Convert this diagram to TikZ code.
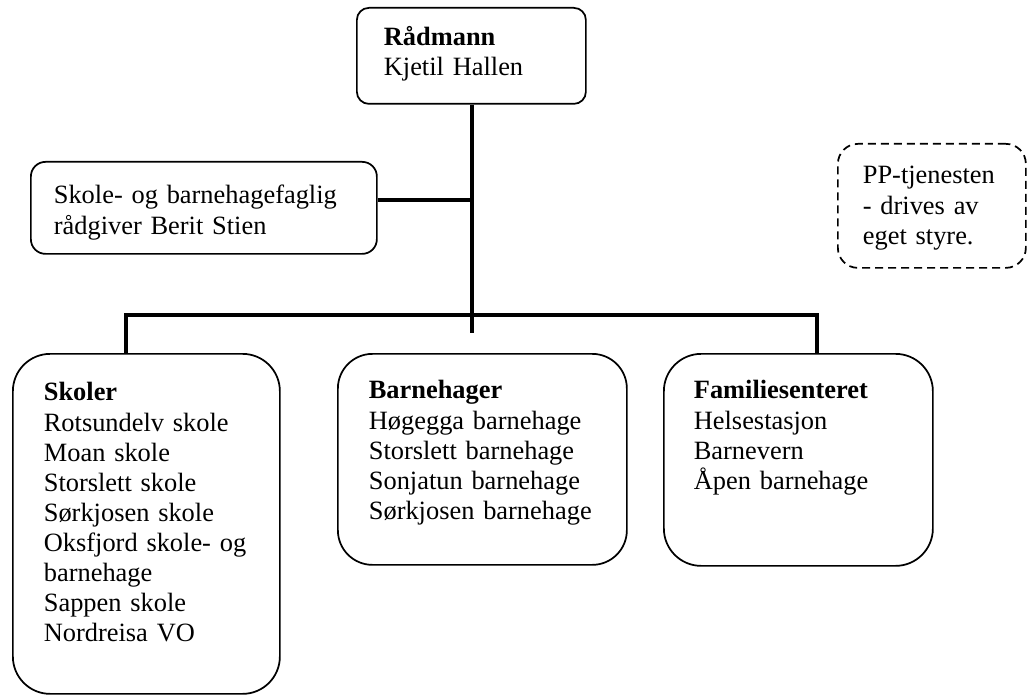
\documentclass[tikz,border=0pt]{standalone}
\usepackage{fontspec}
\setmainfont{Liberation Serif}
\begin{document}
\begin{tikzpicture}[x=0.75pt,y=-0.75pt,
  orgbox/.style={draw, line width=1.3pt, anchor=north west, inner ysep=0pt, align=left,
    font=\fontsize{19.8pt}{22.6pt}\selectfont},
  conn/.style={line width=2.4pt}]
\useasboundingbox (0,0) rectangle (1027,695);

% boxes
\node[orgbox, rounded corners=9pt, inner xsep=20.25pt, text width=131.25pt,
  text height=28.5pt, text depth=43.5pt] (radm) at (356,7)
  {\textbf{Rådmann}\\Kjetil Hallen};
\node[orgbox, rounded corners=11pt, inner xsep=17.25pt, text width=225pt,
  text height=31.5pt, text depth=37.5pt] (rad) at (30,161)
  {Skole- og barnehagefaglig\\rådgiver Berit Stien};
\node[orgbox, dash pattern=on 6pt off 3.75pt, rounded corners=15pt, inner xsep=18.75pt, text width=103.5pt,
  text height=30pt, text depth=63pt] (pp) at (837,143)
  {PP-tjenesten\\- drives av\\eget styre.};
\node[orgbox, rounded corners=28pt, inner xsep=23.25pt, text width=153.75pt,
  text height=35.25pt, text depth=219.75pt] (skoler) at (12,353)
  {\textbf{Skoler}\\Rotsundelv skole\\Moan skole\\Storslett skole\\Sørkjosen skole\\Oksfjord skole- og\\barnehage\\Sappen skole\\Nordreisa VO};
\node[orgbox, rounded corners=26pt, inner xsep=23.25pt, text width=170.25pt,
  text height=33.75pt, text depth=124.5pt] (bhg) at (337,353)
  {\textbf{Barnehager}\\Høgegga barnehage\\Storslett barnehage\\Sonjatun barnehage\\Sørkjosen barnehage};
\node[orgbox, rounded corners=28pt, inner xsep=22.5pt, text width=156.75pt,
  text height=33.75pt, text depth=125.25pt] (fam) at (663,353)
  {\textbf{Familiesenteret}\\Helsestasjon\\Barnevern\\Åpen barnehage};

% connector points
\coordinate (j1) at (472,315);
\coordinate (c1) at (472,200);
\coordinate (stub) at (472,333);
\coordinate (dl) at (126,315);
\coordinate (dr) at (817,315);

% connectors
\draw[conn] (radm.south -| j1) -- (stub);
\draw[conn] (rad.east |- c1) -- (c1);
\draw[conn] (dl |- skoler.north) -- (dl) -- (dr) -- (dr |- fam.north);
\end{tikzpicture}
\end{document}
